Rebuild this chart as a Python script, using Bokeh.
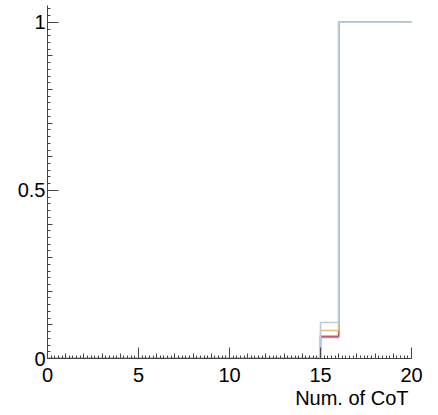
from bokeh.plotting import figure
from bokeh.models import (LinearAxis, FixedTicker, Range1d, CustomJSTickFormatter,
                          Title)
from bokeh.embed import file_html
from bokeh.resources import INLINE

# Histogram bin edges for the number of CoT steps
bin_edges = [0, 1, 2, 3, 4, 5, 6, 7, 8, 9, 10, 11, 12, 13, 14, 15, 16, 17, 18, 19, 20]

# Per-bin values of each distribution (20 bins)
series_slate = [0, 0, 0, 0, 0, 0, 0, 0, 0, 0, 0, 0, 0, 0, 0, 0.0625, 1, 1, 1, 1]
series_red = [0, 0, 0, 0, 0, 0, 0, 0, 0, 0, 0, 0, 0, 0, 0, 0.066, 1, 1, 1, 1]
series_orange = [0, 0, 0, 0, 0, 0, 0, 0, 0, 0, 0, 0, 0, 0, 0, 0.083, 1, 1, 1, 1]
series_blue = [0, 0, 0, 0, 0, 0, 0, 0, 0, 0, 0, 0, 0, 0, 0, 0.107, 1, 1, 1, 1]

series_list = [series_slate, series_red, series_orange, series_blue]
series_colors = ["#8a9fbc", "#c25a6a", "#e8bd78", "#bccbd6"]

x_major = [0, 5, 10, 15, 20]
y_major = [0, 0.5, 1]
x_label = "Num. of CoT"

FONT = "Liberation Sans"
AXIS_COLOR = "#444444"

p = figure(width=438, height=415, x_range=Range1d(0, 20), y_range=Range1d(0, 1.05),
           output_backend="svg", toolbar_location=None,
           x_axis_type=None, y_axis_type=None,
           min_border_left=47, min_border_right=27, min_border_top=5, min_border_bottom=57)
p.outline_line_color = None
p.background_fill_color = "white"
p.border_fill_color = "white"
p.xgrid.visible = False
p.ygrid.visible = False

# step outlines, drawn from the lowest to the highest bin value
for vals, col in zip(series_list, series_colors):
    p.step(x=bin_edges, y=vals + [vals[-1]], mode="after", line_color=col, line_width=1.5)

# main axes: labelled primary ticks plus the finest subdivisions
x_fine = [i * 0.2 for i in range(101)]
y_fine = [i * 0.02 for i in range(53)]

xaxis = LinearAxis(ticker=FixedTicker(ticks=x_major, minor_ticks=x_fine))
yaxis = LinearAxis(ticker=FixedTicker(ticks=y_major, minor_ticks=y_fine))
for ax in (xaxis, yaxis):
    ax.axis_line_color = AXIS_COLOR
    ax.axis_line_width = 1
    ax.major_tick_line_color = AXIS_COLOR
    ax.minor_tick_line_color = AXIS_COLOR
    ax.major_tick_in = 11
    ax.major_tick_out = 0
    ax.minor_tick_in = 3
    ax.minor_tick_out = 0
    ax.major_label_text_font = FONT
    ax.major_label_text_font_size = "20px"
    ax.major_label_text_color = "black"
xaxis.major_label_standoff = 9
yaxis.major_label_standoff = 2
p.add_layout(xaxis, "below")
p.add_layout(yaxis, "left")

# intermediate subdivisions drawn as unlabelled axes pinned to the origin
x_mid = [float(i) for i in range(21)]
y_mid = [i * 0.1 for i in range(11)]
x_mid_axis = LinearAxis(ticker=FixedTicker(ticks=x_mid), fixed_location=0,
                        formatter=CustomJSTickFormatter(code="return ''"))
y_mid_axis = LinearAxis(ticker=FixedTicker(ticks=y_mid), fixed_location=0,
                        formatter=CustomJSTickFormatter(code="return ''"))
for ax in (x_mid_axis, y_mid_axis):
    ax.axis_line_color = None
    ax.major_tick_line_color = AXIS_COLOR
    ax.major_tick_in = 5
    ax.major_tick_out = 0
    ax.minor_tick_line_color = None
    ax.major_label_text_font_size = "0px"
p.add_layout(x_mid_axis, "below")
p.add_layout(y_mid_axis, "left")

# axis title, right-aligned under the end of the x axis
p.add_layout(Title(text=x_label, align="right", offset=3, standoff=1,
                   text_font=FONT, text_font_size="20px", text_font_style="normal",
                   text_color="black"), "below")

open("out.html", "w").write(file_html(p, INLINE))
